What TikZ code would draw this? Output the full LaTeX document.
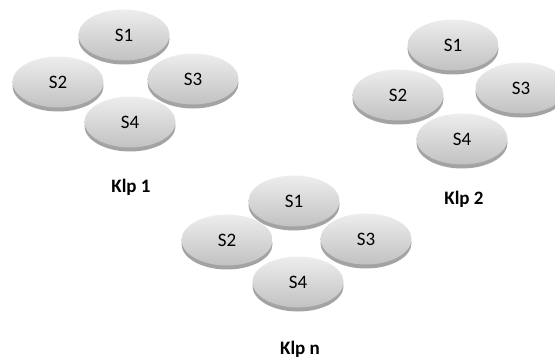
\documentclass[tikz,border=0pt]{standalone}
\usepackage{fontspec}
\setmainfont{Carlito}
\usepackage{tikz}
\usetikzlibrary{shapes.geometric}
\usetikzlibrary{shadows}

\begin{document}
\begin{tikzpicture}[x=1pt,y=-1pt]
		\tikzstyle{disk}=[ellipse, minimum width=91pt, minimum height=51pt, inner sep=0pt,
			top color=gray!14, bottom color=gray!48,
			drop shadow={shadow xshift=0pt, shadow yshift=-4pt, fill=gray!72, opacity=1},
			font=\fontsize{19}{21}\selectfont]
		\tikzstyle{klp}=[font=\fontsize{19}{21}\selectfont\bfseries]
		\useasboundingbox (0,0) rectangle (555,360);

		% Klp 1
		\node[disk] (a1) at (124,35) {S1};
		\node[disk] (a2) at (58,82) {S2};
		\node[disk] (a3) at (193,79) {S3};
		\node[disk] (a4) at (130,122) {S4};
		\node[klp] (ka) at (131,187) {Klp 1};

		% Klp 2
		\node[disk] (b1) at (453,45) {S1};
		\node[disk] (b2) at (398,95) {S2};
		\node[disk] (b3) at (521,88) {S3};
		\node[disk] (b4) at (462,139) {S4};
		\node[klp] (kb) at (464,199) {Klp 2};

		% Klp n
		\node[disk] (c1) at (294,201) {S1};
		\node[disk] (c2) at (227,240) {S2};
		\node[disk] (c3) at (366,239) {S3};
		\node[disk] (c4) at (298,282) {S4};
		\node[klp] (kc) at (300,349) {Klp n};
	\end{tikzpicture}
\end{document}
